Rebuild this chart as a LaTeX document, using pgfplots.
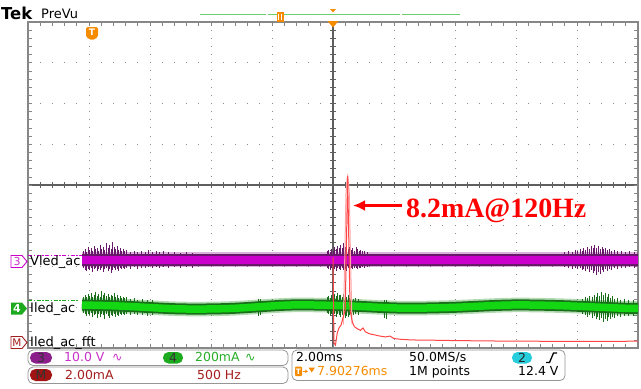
\documentclass[border=0pt]{standalone}
\usepackage{pgfplots}
\pgfplotsset{compat=1.18}
\usepackage{fontspec}
\setmainfont{DejaVu Sans}
\newfontfamily\annotfont{Liberation Serif}
\usetikzlibrary{arrows.meta}

\definecolor{bordergray}{RGB}{135,135,135}
\definecolor{dotgray}{RGB}{140,140,140}
\definecolor{centergray}{RGB}{95,95,95}
\definecolor{magbright}{RGB}{204,0,204}
\definecolor{magdark}{RGB}{105,25,105}
\definecolor{maghalo}{RGB}{150,40,150}
\definecolor{grnbright}{RGB}{20,215,20}
\definecolor{grndark}{RGB}{25,110,25}
\definecolor{grnhalo}{RGB}{40,150,40}
\definecolor{fftred}{RGB}{255,70,70}
\definecolor{fftpink}{RGB}{255,165,165}
\definecolor{tekorange}{RGB}{245,140,0}
\definecolor{readmag}{RGB}{200,50,200}
\definecolor{readgrn}{RGB}{40,175,40}
\definecolor{readred}{RGB}{165,30,30}
\definecolor{pillpurp}{RGB}{140,30,140}
\definecolor{pillgrn}{RGB}{30,170,30}
\definecolor{pillred}{RGB}{160,20,20}
\definecolor{pillcyan}{RGB}{40,205,220}
\definecolor{boxgray}{RGB}{150,150,150}
\definecolor{recgreen}{RGB}{110,205,110}

\newcommand\rdfont{\fontsize{12.5}{12.5}\selectfont}
\newcommand\lblfont{\fontsize{13}{13}\selectfont}

\pgfplotsset{
  noise/.style={draw=none, forget plot,
    error bars/.cd, y dir=both, y explicit, error mark=none,
    error bar style={draw=#1, solid, line width=0.75bp}},
}

% Vled_ac noise bursts: time (div), level (div), excursion up / down (div)
\pgfplotstableread{
x y ep em
-4.090 -1.84 .22 .19
-4.065 -1.84 .27 .24
-4.040 -1.84 .20 .28
-4.015 -1.84 .31 .21
-3.990 -1.84 .24 .25
-3.965 -1.84 .29 .19
-3.940 -1.84 .21 .30
-3.915 -1.84 .34 .23
-3.890 -1.84 .26 .20
-3.865 -1.84 .30 .27
-3.840 -1.84 .23 .22
-3.815 -1.84 .37 .25
-3.790 -1.84 .28 .19
-3.765 -1.84 .33 .29
-3.740 -1.84 .25 .23
-3.715 -1.84 .41 .20
-3.690 -1.84 .30 .26
-3.665 -1.84 .36 .22
-3.640 -1.84 .27 .31
-3.615 -1.84 .43 .24
-3.590 -1.84 .32 .20
-3.565 -1.84 .26 .25
-3.540 -1.84 .35 .21
-3.515 -1.84 .24 .27
-3.490 -1.84 .29 .19
-3.465 -1.84 .22 .23
-3.440 -1.84 .27 .20
-3.415 -1.84 .21 .22
-3.38 -1.84 .24 .19
-3.32 -1.84 .20 .22
-3.26 -1.84 .23 .18
-3.20 -1.84 .19 .21
-3.14 -1.84 .22 .19
-3.08 -1.84 .20 .20
-3.02 -1.84 .24 .18
-2.96 -1.84 .19 .20
-2.90 -1.84 .21 .18
-2.84 -1.84 .19 .19
-2.78 -1.84 .22 .18
-2.70 -1.84 .19 .20
-2.60 -1.84 .20 .18
-2.50 -1.84 .18 .19
-2.40 -1.84 .20 .18
-2.30 -1.84 .18 .19
-0.100 -1.84 .21 .19
-0.075 -1.84 .24 .22
-0.050 -1.84 .20 .25
-0.025 -1.84 .28 .20
0.000 -1.84 .23 .24
0.025 -1.84 .31 .21
0.050 -1.84 .26 .27
0.075 -1.84 .34 .20
0.100 -1.84 .29 .23
0.125 -1.84 .37 .25
0.150 -1.84 .30 .20
0.175 -1.84 .42 .24
0.200 -1.84 .33 .21
0.225 -1.84 .39 .26
0.250 -1.84 .28 .20
0.275 -1.84 .32 .23
0.300 -1.84 .25 .19
0.325 -1.84 .29 .22
0.350 -1.84 .23 .20
0.375 -1.84 .33 .19
0.400 -1.84 .26 .21
0.425 -1.84 .22 .19
0.450 -1.84 .25 .20
0.480 -1.84 .21 .18
0.520 -1.84 .23 .19
0.560 -1.84 .19 .18
3.80 -1.84 .20 .18
3.86 -1.84 .22 .19
3.92 -1.84 .19 .21
3.97 -1.84 .24 .20
4.01 -1.84 .21 .23
4.05 -1.84 .26 .20
4.08 -1.84 .23 .25
4.11 -1.84 .29 .21
4.14 -1.84 .25 .27
4.17 -1.84 .31 .23
4.20 -1.84 .27 .30
4.23 -1.84 .34 .24
4.26 -1.84 .29 .33
4.29 -1.84 .37 .26
4.32 -1.84 .30 .38
4.35 -1.84 .35 .29
4.38 -1.84 .28 .34
4.41 -1.84 .33 .25
4.44 -1.84 .26 .30
4.47 -1.84 .30 .23
4.50 -1.84 .24 .27
4.53 -1.84 .27 .21
4.57 -1.84 .22 .24
4.61 -1.84 .25 .20
4.66 -1.84 .21 .22
4.72 -1.84 .23 .19
4.79 -1.84 .20 .20
4.86 -1.84 .21 .18
4.94 -1.84 .19 .19
}\vnoise

% Iled_ac noise bursts
\pgfplotstableread{
x y ep em
-4.090 -2.946 .20 .19
-4.065 -2.947 .25 .23
-4.040 -2.948 .19 .27
-4.015 -2.949 .28 .21
-3.990 -2.950 .22 .25
-3.965 -2.951 .30 .19
-3.940 -2.952 .21 .29
-3.915 -2.953 .26 .23
-3.890 -2.954 .32 .20
-3.865 -2.955 .24 .31
-3.840 -2.956 .29 .22
-3.815 -2.957 .22 .27
-3.790 -2.958 .35 .20
-3.765 -2.959 .26 .24
-3.740 -2.960 .30 .33
-3.715 -2.961 .23 .21
-3.690 -2.962 .28 .26
-3.665 -2.963 .21 .30
-3.640 -2.964 .27 .22
-3.615 -2.965 .24 .25
-3.590 -2.966 .31 .20
-3.565 -2.967 .22 .27
-3.540 -2.968 .26 .21
-3.515 -2.969 .20 .24
-3.490 -2.970 .24 .19
-3.465 -2.972 .19 .23
-3.440 -2.974 .23 .20
-3.415 -2.976 .20 .22
-3.38 -2.978 .22 .19
-3.32 -2.982 .19 .21
-3.26 -2.987 .21 .18
-3.20 -2.992 .18 .20
-3.12 -3.000 .20 .19
-3.04 -3.010 .18 .20
-2.96 -3.018 .19 .18
-1.22 -2.985 .18 .24
-1.19 -2.982 .19 .21
-0.100 -2.955 .20 .19
-0.075 -2.955 .23 .21
-0.050 -2.955 .19 .25
-0.025 -2.955 .26 .20
0.000 -2.956 .22 .23
0.025 -2.956 .28 .21
0.050 -2.957 .24 .27
0.075 -2.957 .30 .20
0.100 -2.958 .25 .24
0.125 -2.959 .27 .29
0.150 -2.960 .22 .22
0.175 -2.962 .29 .26
0.200 -2.964 .24 .31
0.225 -2.966 .21 .24
0.250 -2.968 .26 .28
0.275 -2.970 .20 .22
0.300 -2.972 .23 .25
0.330 -2.975 .19 .21
0.370 -2.979 .21 .19
0.420 -2.984 .18 .20
0.850 -3.010 .18 .25
0.880 -3.012 .19 .27
4.08 -2.985 .20 .19
4.13 -2.990 .23 .21
4.17 -2.993 .21 .24
4.21 -2.996 .27 .20
4.25 -2.999 .24 .26
4.28 -3.001 .31 .22
4.31 -3.003 .26 .29
4.34 -3.005 .35 .23
4.37 -3.007 .28 .31
4.40 -3.009 .38 .25
4.43 -3.011 .30 .34
4.46 -3.013 .36 .27
4.49 -3.014 .27 .32
4.52 -3.015 .33 .23
4.55 -3.016 .25 .28
4.58 -3.017 .30 .21
4.62 -3.018 .22 .25
4.66 -3.019 .25 .20
4.71 -3.020 .21 .22
4.77 -3.021 .23 .19
4.84 -3.023 .19 .20
4.92 -3.026 .21 .19
}\inoise

\begin{document}
\begin{tikzpicture}
% ---------- screen and graticule (screen pixels, y downward) ----------
\begin{scope}[x=1bp,y=-1bp]
  \fill[white] (0,0) rectangle (641,388);
  % dotted division lines
  \foreach \k in {1,2,3,4,6,7,8,9} {
    \foreach \j in {1,...,39} {
      \fill[dotgray] ({28+61*\k-0.5},{22+8.15*\j-0.5}) rectangle ++(1,1);
    }
  }
  \foreach \k in {1,2,3,5,6,7} {
    \foreach \j in {1,...,49} {
      \fill[dotgray] ({28+12.2*\j-0.5},{22+40.75*\k-0.5}) rectangle ++(1,1);
    }
  }
  % centre cross with minor ticks
  \draw[centergray, line width=1.1bp] (28,185) -- (638,185);
  \draw[centergray, line width=1.1bp] (333,22) -- (333,348);
  \foreach \j in {1,...,49} {
    \draw[centergray, line width=0.7bp] ({28+12.2*\j},182) -- ++(0,6);
    \draw[bordergray, line width=0.7bp] ({28+12.2*\j},22) -- ++(0,4);
    \draw[bordergray, line width=0.7bp] ({28+12.2*\j},348) -- ++(0,-4);
  }
  \foreach \j in {1,...,39} {
    \draw[centergray, line width=0.7bp] (330,{22+8.15*\j}) -- ++(6,0);
    \draw[bordergray, line width=0.7bp] (28,{22+8.15*\j}) -- ++(4,0);
    \draw[bordergray, line width=0.7bp] (638,{22+8.15*\j}) -- ++(-4,0);
  }
  \draw[bordergray, line width=1.8bp] (28,22) rectangle (638,348);
  % level lines ahead of the traces
  \draw[magbright, line width=0.9bp, dash pattern=on 4bp off 1.5bp on 1.5bp off 1.5bp] (28,255.5) -- (82,255.5);
  \draw[pillgrn, line width=0.9bp, dash pattern=on 4bp off 1.5bp on 1.5bp off 1.5bp] (28,300) -- (78,300);
\end{scope}

% ---------- channel traces, in divisions ----------
\begin{axis}[at={(28bp,-348bp)}, anchor=south west, scale only axis,
  width=610bp, height=326bp, xmin=-5, xmax=5, ymin=-4, ymax=4,
  hide axis, clip=true]
  % Vled_ac (ch 3)
  \addplot[maghalo, opacity=0.35, line width=15bp, forget plot] coordinates {(-4.115,-1.84) (5,-1.84)};
  \addplot[magdark, line width=12bp, forget plot] coordinates {(-4.115,-1.84) (5,-1.84)};
  \addplot[noise=magdark] table[x=x, y=y, y error plus=ep, y error minus=em] {\vnoise};
  \addplot[magbright, line width=8.5bp, forget plot] coordinates {(-4.115,-1.84) (5,-1.84)};

  % Iled_ac (ch 4)
  \addplot[grnhalo, opacity=0.35, line width=14.5bp, smooth, forget plot] coordinates {
    (-4.115,-2.945) (-3.49,-2.97) (-2.51,-3.04) (-1.69,-3.03) (-0.70,-2.945) (0.12,-2.96)
    (1.10,-3.02) (1.92,-3.005) (2.90,-2.945) (3.72,-2.96) (4.70,-3.02) (5.0,-3.03)};
  \addplot[grndark, line width=11bp, smooth, forget plot] coordinates {
    (-4.115,-2.945) (-3.49,-2.97) (-2.51,-3.04) (-1.69,-3.03) (-0.70,-2.945) (0.12,-2.96)
    (1.10,-3.02) (1.92,-3.005) (2.90,-2.945) (3.72,-2.96) (4.70,-3.02) (5.0,-3.03)};
  \addplot[noise=grndark] table[x=x, y=y, y error plus=ep, y error minus=em] {\inoise};
  \addplot[grnbright, line width=7.5bp, smooth, forget plot] coordinates {
    (-4.115,-2.945) (-3.49,-2.97) (-2.51,-3.04) (-1.69,-3.03) (-0.70,-2.945) (0.12,-2.96)
    (1.10,-3.02) (1.92,-3.005) (2.90,-2.945) (3.72,-2.96) (4.70,-3.02) (5.0,-3.03)};
\end{axis}

% ---------- math trace: FFT of Iled_ac, 500 Hz/div, 2 mA/div ----------
\begin{axis}[at={(28bp,-348bp)}, anchor=south west, scale only axis,
  width=610bp, height=326bp, xmin=-2500, xmax=2500, ymin=-0.245, ymax=15.755,
  hide axis, clip=true]
  \addplot[fftpink, line width=1bp, forget plot] coordinates {
    (84,0.9) (96,4.0) (106,7.3) (114,8.0) (120,8.2) (126,8.0) (134,7.3) (144,4.0) (156,0.9)};
  \addplot[fftred, line width=1bp, forget plot] coordinates {
    (0,4.2) (4,2.0) (8,0.0) (20,-0.1) (35,0.5) (50,0.75) (66,0.88) (80,1.2)
    (100,1.6) (112,5.5) (120,8.2) (128,5.5) (140,1.6)
    (158,1.05) (175,0.8) (200,0.7) (225,0.62) (246,0.74) (265,0.55) (300,0.45)
    (340,0.4) (385,0.34) (430,0.3) (467,0.34) (500,0.22) (560,0.18) (650,0.15)
    (800,0.14) (1000,0.12) (1300,0.1) (1600,0.09) (1900,0.08) (2200,0.08) (2500,0.09)};
\end{axis}

% ---------- labels, markers and readouts ----------
\begin{scope}[x=1bp,y=-1bp]
  % header
  \node[anchor=base west, inner sep=0, font=\bfseries\fontsize{16.5}{16.5}\selectfont] at (1,19.5) {Tek};
  \node[anchor=base west, inner sep=0, font=\fontsize{13}{13}\selectfont] at (41,18) {PreVu};
  % record view bar
  \draw[recgreen, line width=1.6bp] (200,14.3) -- (266,14.3);
  \draw[recgreen, line width=1.6bp] (268,14.3) -- (400,14.3);
  \draw[recgreen, line width=1.6bp] (402,14.3) -- (460,14.3);
  \fill[tekorange] (276.5,11.5) rectangle (283.5,21.5);
  \draw[white, line width=0.8bp] (278.8,13.5) -- (278.8,19.5);
  \draw[white, line width=0.8bp] (281.2,13.5) -- (281.2,19.5);
  \fill[tekorange] (330,9) -- (336,9) -- (333,12.5) -- cycle;
  % trigger position
  \fill[tekorange] (327.5,21) -- (338.5,21) -- (333,27.5) -- cycle;
  \fill[tekorange, rounded corners=1.5bp] (86,27) -- (98,27) -- (98,37) -- (92,40.5) -- (86,37) -- cycle;
  \node[text=white, inner sep=0, font=\bfseries\fontsize{9}{9}\selectfont] at (92,32.5) {T};

  % channel markers and names
  \draw[magbright, fill=white, line width=0.9bp] (11,255.5) -- (22,255.5) -- (27,261.5) -- (22,267.5) -- (11,267.5) -- cycle;
  \node[text=readmag, inner sep=0, font=\fontsize{11}{11}\selectfont] at (17,261.5) {3};
  \fill[pillgrn] (11,302.5) -- (22,302.5) -- (27,308.5) -- (22,314.5) -- (11,314.5) -- cycle;
  \node[text=white, inner sep=0, font=\bfseries\fontsize{11}{11}\selectfont] at (17,308.5) {4};
  \draw[readred, fill=white, line width=0.9bp] (11,336.5) -- (22,336.5) -- (27,342.5) -- (22,348.5) -- (11,348.5) -- cycle;
  \node[text=readred, inner sep=0, font=\fontsize{10.5}{10.5}\selectfont] at (17,342.5) {M};
  \node[anchor=west, inner sep=0, font=\lblfont] at (30,262) {Vled\_ac};
  \node[anchor=west, inner sep=0, font=\lblfont] at (30,309) {Iled\_ac};
  \node[anchor=west, inner sep=0, font=\lblfont] at (30,343) {Iled\_ac\_fft};

  % annotation of the 120 Hz line
  \draw[red, line width=3bp, -{Latex[length=12bp,width=11bp]}] (402,205.5) -- (353,205.5);
  \node[anchor=base west, inner sep=0, text=red, font=\annotfont\bfseries\fontsize{28}{28}\selectfont] at (406,217) {8.2mA@120Hz};

  % vertical readouts
  \draw[boxgray, line width=0.8bp, rounded corners=5bp, fill=white] (28,350) rectangle (288,365.5);
  \draw[boxgray, line width=0.8bp, rounded corners=5bp, fill=white] (28,367) rectangle (288,383.5);
  \fill[pillpurp, rounded corners=5.5bp] (30,352) rectangle (52,363.5);
  \node[inner sep=0, text=black!80, font=\rdfont] at (41,357.8) {3};
  \node[anchor=base west, inner sep=0, text=readmag, font=\rdfont] at (64,361.5) {10.0 V};
  \node[anchor=base west, inner sep=0, text=readmag, font=\rdfont] at (112,361.5) {∿};
  \fill[pillgrn, rounded corners=5.5bp] (163,352) rectangle (183,363.5);
  \node[inner sep=0, text=black!80, font=\rdfont] at (173,357.8) {4};
  \node[anchor=base west, inner sep=0, text=readgrn, font=\rdfont] at (195,361.5) {200mA};
  \node[anchor=base west, inner sep=0, text=readgrn, font=\rdfont] at (245,361.5) {∿};
  \fill[pillred, rounded corners=5.5bp] (30,369) rectangle (52,381);
  \node[inner sep=0, text=black!80, font=\rdfont] at (41,375) {M};
  \node[anchor=base west, inner sep=0, text=readred, font=\rdfont] at (65,379.5) {2.00mA};
  \node[anchor=base west, inner sep=0, text=readred, font=\rdfont] at (197,379.5) {500 Hz};

  % horizontal and trigger readouts
  \draw[boxgray, line width=0.8bp, rounded corners=5bp, fill=white] (292,350) rectangle (565,380.5);
  \node[anchor=base west, inner sep=0, font=\rdfont] at (296,361) {2.00ms};
  \node[anchor=base west, inner sep=0, font=\rdfont] at (409,361) {50.0MS/s};
  \fill[pillcyan, rounded corners=5.5bp] (512,352) rectangle (532,363.5);
  \node[inner sep=0, text=black!85, font=\rdfont] at (522,357.8) {2};
  \draw[black, line width=1.3bp] (546,362.5) -- (549.5,362.5) -- (553.5,353) -- (557,353);
  \fill[tekorange, rounded corners=1bp] (295,366.5) rectangle (302,376);
  \node[text=white, inner sep=0, font=\bfseries\fontsize{7.5}{7.5}\selectfont] at (298.5,371.3) {T};
  \draw[tekorange, line width=1bp, -{Stealth[length=3bp,width=3.5bp]}] (302.5,371.3) -- (308,371.3);
  \fill[tekorange] (308.5,367.5) -- (315,367.5) -- (311.75,372.5) -- cycle;
  \node[anchor=base west, inner sep=0, text=tekorange, font=\rdfont] at (317,375.5) {7.90276ms};
  \node[anchor=base west, inner sep=0, font=\rdfont] at (409,375.5) {1M points};
  \node[anchor=base west, inner sep=0, font=\rdfont] at (518,375.5) {12.4 V};
\end{scope}
\end{tikzpicture}
\end{document}
